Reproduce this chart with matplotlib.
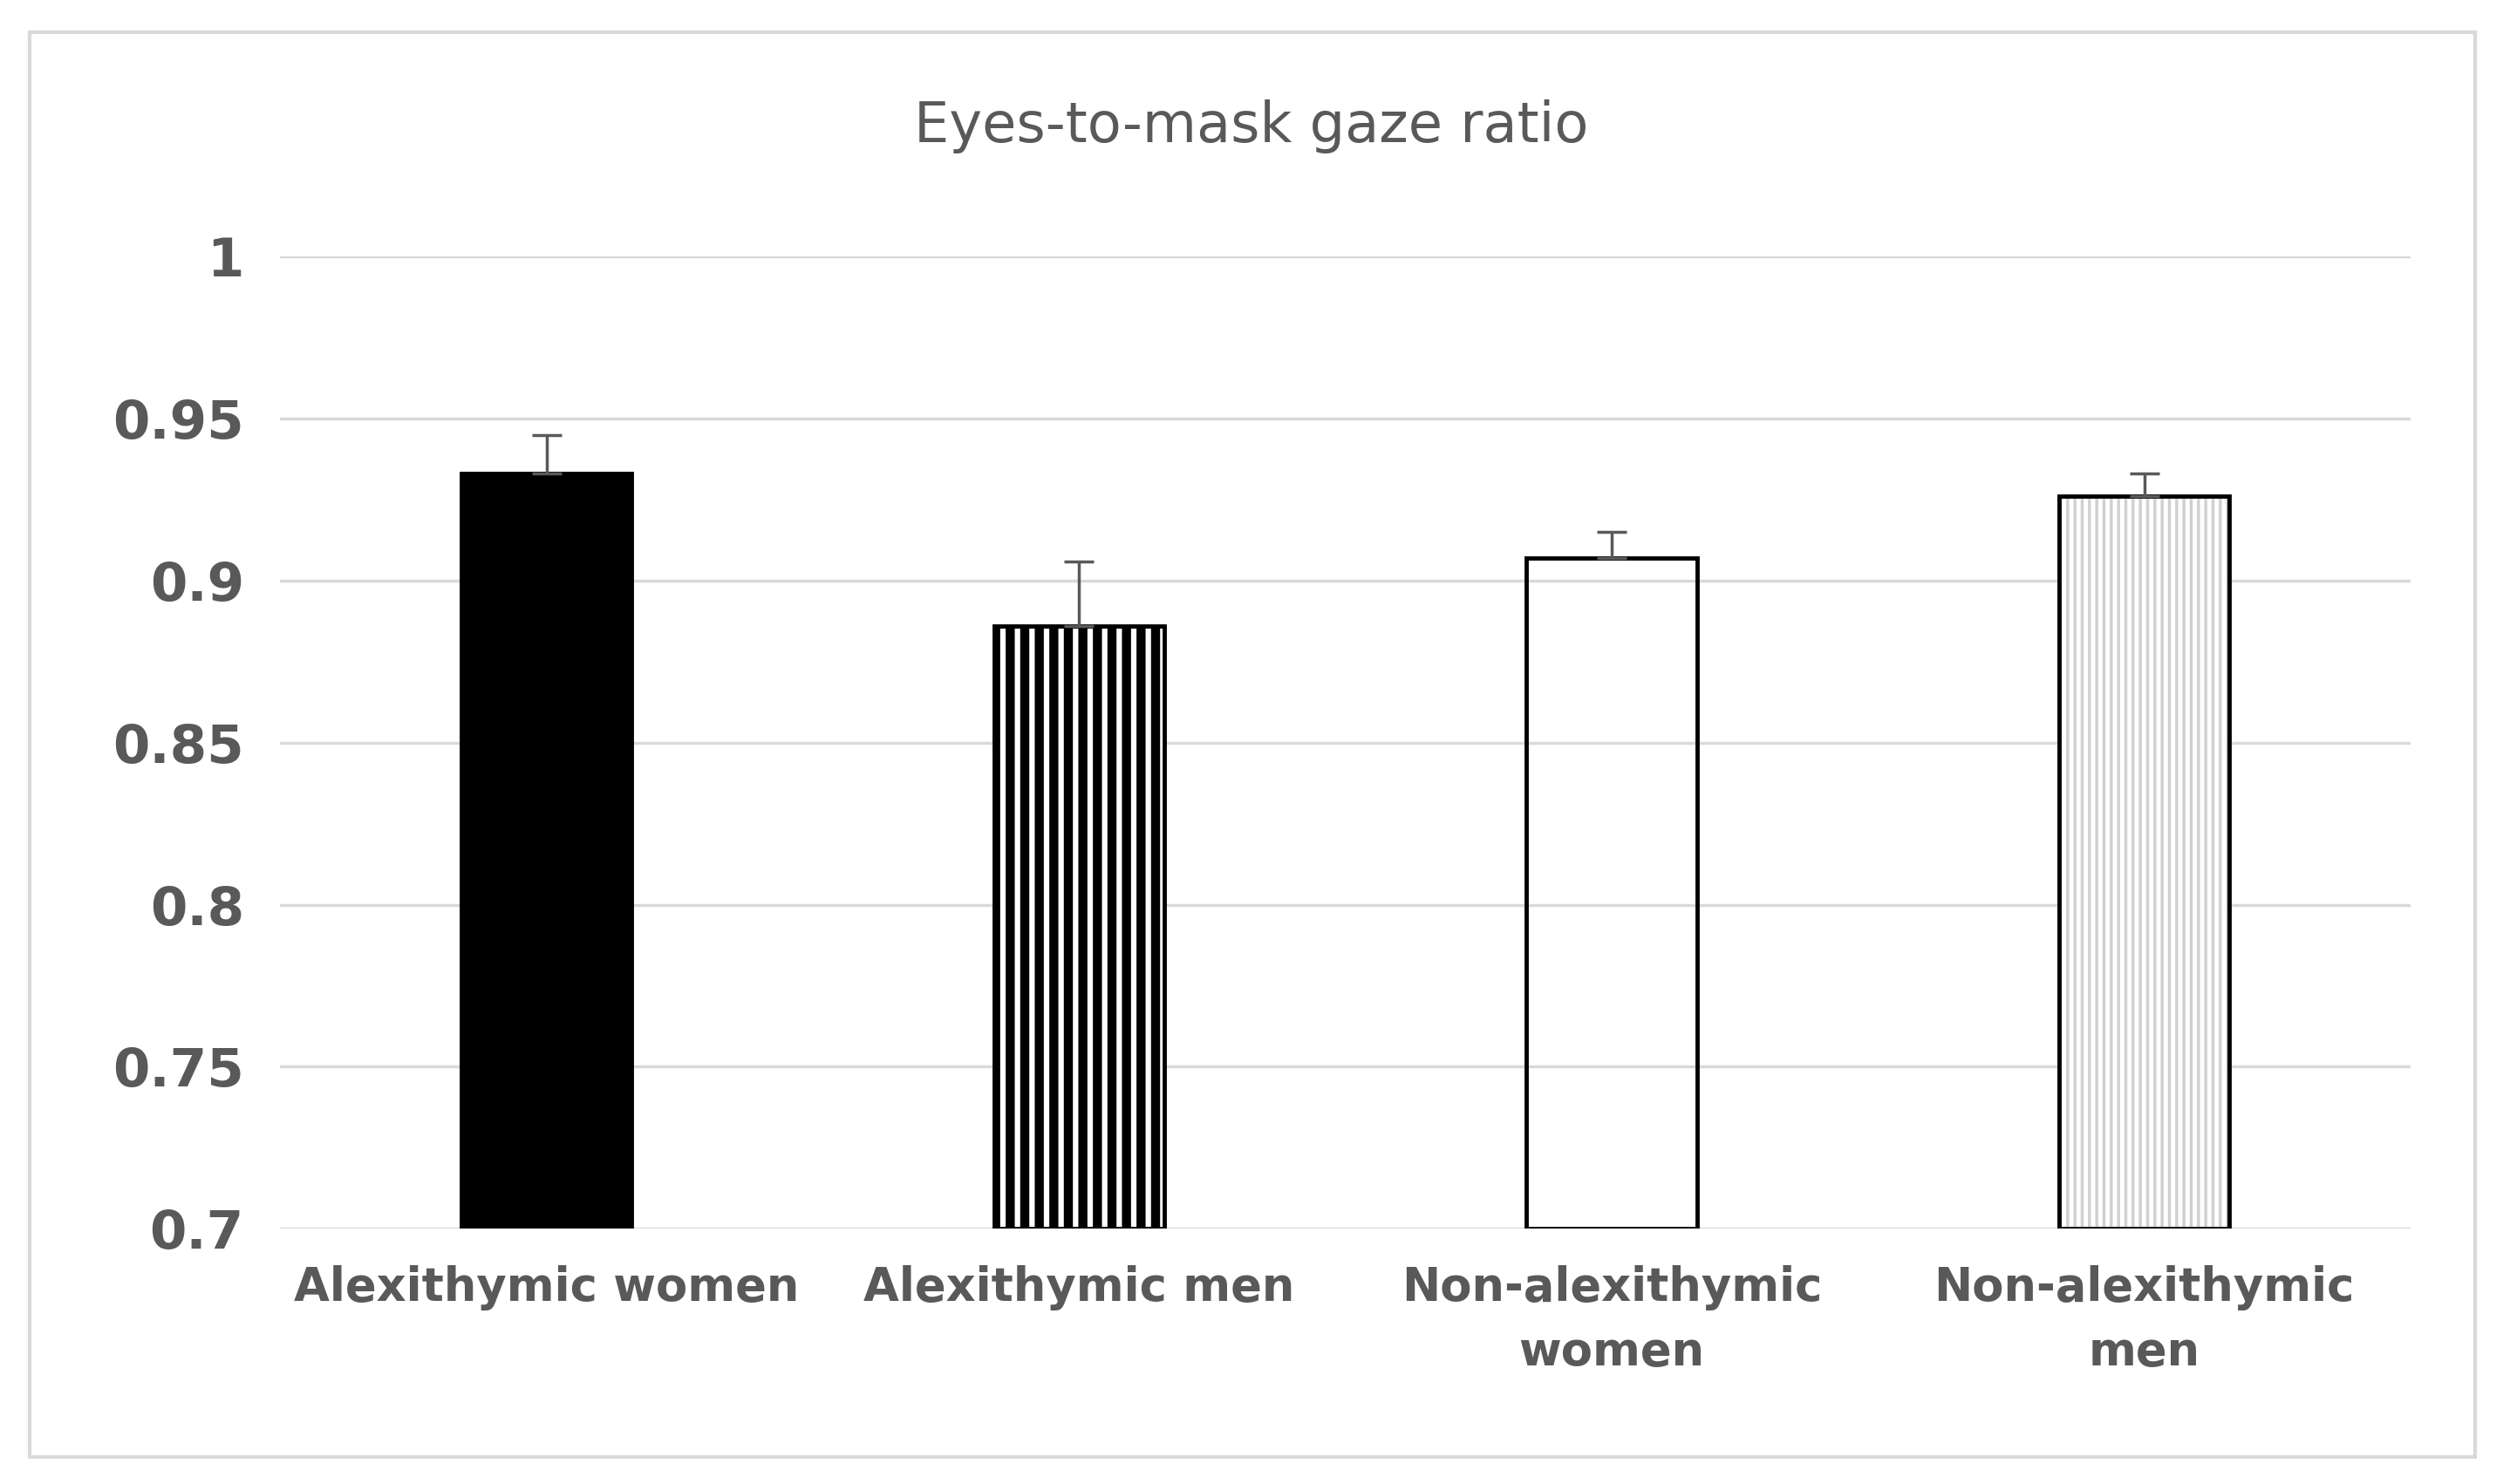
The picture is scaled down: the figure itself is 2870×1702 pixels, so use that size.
import matplotlib
matplotlib.use("Agg")
import matplotlib.pyplot as plt
from matplotlib.patches import Rectangle

# 데이터
categories = ["Alexithymic women", "Alexithymic men", "Non-alexithymic\nwomen", "Non-alexithymic\nmen"]
values = [0.933, 0.886, 0.907, 0.926]
errors = [0.012, 0.020, 0.008, 0.007]
yticks = [0.7, 0.75, 0.8, 0.85, 0.9, 0.95, 1.0]
ytick_labels = ["0.7", "0.75", "0.8", "0.85", "0.9", "0.95", "1"]

fig = plt.figure(figsize=(28.7, 17.02), dpi=100)
ax = fig.add_axes([0.112, 0.172, 0.851, 0.655])

x = range(len(categories))
w = 0.32

def hatch_lw(bars, lw):
    for b in bars:
        if hasattr(b, "set_hatch_linewidth"):
            b.set_hatch_linewidth(lw)

# 막대 1: 검정
ax.bar(0, values[0] - 0.7, w, bottom=0.7, color="black", zorder=3)
# 막대 2: 굵은 세로줄
plt.rcParams["hatch.linewidth"] = 7.5
b2 = ax.bar(1, values[1] - 0.7, w, bottom=0.7, color="white", edgecolor="black",
            hatch="|", linewidth=0, zorder=3)
hatch_lw(b2, 7.5)
# 막대 4: 옅은 회색 세로줄
plt.rcParams["hatch.linewidth"] = 2.5
b4 = ax.bar(3, values[3] - 0.7, w, bottom=0.7, color="white", edgecolor="#d0d0d0",
            hatch="||", linewidth=0, zorder=3)
hatch_lw(b4, 2.5)
# 테두리
ax.bar(x, [v - 0.7 for v in values], w, bottom=0.7, fill=False,
       edgecolor="black", linewidth=3.5, zorder=4)

ax.errorbar(list(x), values, yerr=[[0] * 4, errors], fmt="none", ecolor="#595959",
            elinewidth=2.5, capsize=12, capthick=2.5, zorder=5)

ax.set_ylim(0.7, 1.0)
ax.set_xlim(-0.5, 3.5)
ax.set_yticks(yticks)
ax.set_yticklabels(ytick_labels, fontsize=44, fontweight="bold", color="#595959")
ax.set_xticks(list(x))
ax.set_xticklabels(categories, fontsize=38, fontweight="bold", color="#595959",
                   linespacing=1.55, va="top")
ax.tick_params(axis="x", length=0, pad=30)
ax.tick_params(axis="y", length=0, pad=30)
ax.yaxis.grid(True, color="#d9d9d9", linewidth=2.5, zorder=0)
for s in ax.spines.values():
    s.set_visible(False)

fig.text(0.5, 0.915, "Eyes-to-mask gaze ratio", ha="center", va="center",
         fontsize=46, color="#595959")
fig.patches.append(Rectangle((0.012, 0.018), 0.977, 0.96, transform=fig.transFigure,
                             fill=False, edgecolor="#d9d9d9", linewidth=3))

fig.savefig("out.png", dpi=100)
